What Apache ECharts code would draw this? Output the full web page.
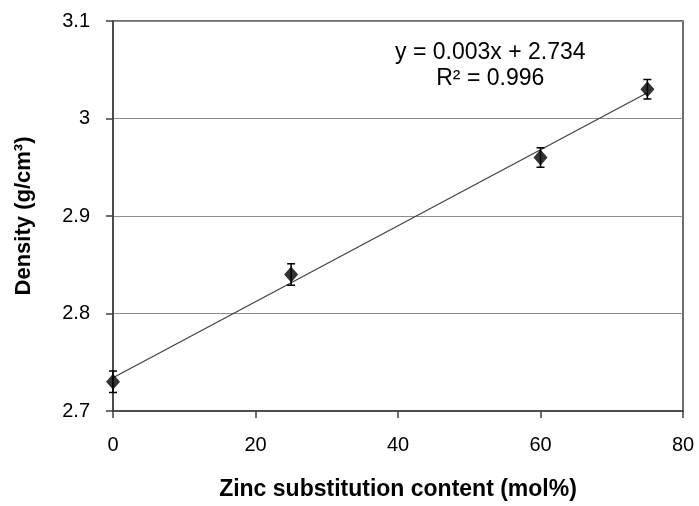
<!DOCTYPE html>
<html>
<head>
<meta charset="utf-8">
<script src="https://cdn.jsdelivr.net/npm/echarts@6/dist/echarts.min.js"></script>
<style>
  html, body { margin: 0; padding: 0; background: #fff; }
  #chart { width: 699px; height: 506px; }
</style>
</head>
<body>
<div id="chart"></div>
<script>
// data
const zincContent = [0, 25, 60, 75];
const density = [2.73, 2.84, 2.96, 3.03];
const densityErr = [0.011, 0.011, 0.01, 0.01];
const xTicks = [0, 20, 40, 60, 80];
const yTicks = [2.7, 2.8, 2.9, 3.0, 3.1];
const equationLines = ['y = 0.003x + 2.734', 'R² = 0.996'];

// linear trend line (least squares), drawn over the data range
const n = zincContent.length;
const mx = zincContent.reduce((a, b) => a + b, 0) / n;
const my = density.reduce((a, b) => a + b, 0) / n;
let sxy = 0, sxx = 0;
zincContent.forEach((x, i) => {
  sxy += (x - mx) * (density[i] - my);
  sxx += (x - mx) * (x - mx);
});
const slope = sxy / sxx;
const intercept = my - slope * mx;
const xFirst = zincContent[0];
const xLast = zincContent[n - 1];
const trendData = [
  [xFirst, intercept + slope * xFirst],
  [xLast, intercept + slope * xLast]
];

const font = 'Liberation Sans, Arial, sans-serif';
const chart = echarts.init(document.getElementById('chart'));

chart.setOption({
  animation: false,
  backgroundColor: '#fff',
  grid: {
    left: 113,
    right: 16,
    top: 21,
    bottom: 95,
    show: true,
    borderColor: '#404040',
    borderWidth: 1.5
  },
  xAxis: {
    type: 'value',
    min: xTicks[0],
    max: xTicks[xTicks.length - 1],
    interval: 20,
    name: 'Zinc substitution content (mol%)',
    nameLocation: 'middle',
    nameGap: 67,
    nameTextStyle: { fontFamily: font, fontSize: 23, fontWeight: 'bold', color: '#000' },
    axisLine: { show: true, lineStyle: { color: '#404040', width: 1.5 } },
    axisTick: { show: true, inside: false, length: 7, lineStyle: { color: '#404040', width: 1.5 } },
    axisLabel: { fontFamily: font, fontSize: 20, color: '#000', margin: 24 },
    splitLine: { show: false }
  },
  yAxis: {
    type: 'value',
    min: yTicks[0],
    max: yTicks[yTicks.length - 1],
    interval: 0.1,
    name: 'Density (g/cm³)',
    nameLocation: 'middle',
    nameGap: 78,
    nameTextStyle: { fontFamily: font, fontSize: 22, fontWeight: 'bold', color: '#000' },
    axisLine: { show: true, lineStyle: { color: '#404040', width: 1.5 } },
    axisTick: { show: true, inside: false, length: 7, lineStyle: { color: '#404040', width: 1.5 } },
    axisLabel: {
      fontFamily: font, fontSize: 20, color: '#000', margin: 23,
      formatter: v => {
        const r = Math.round(v * 10) / 10;
        return r === 3 ? '3' : r.toFixed(1);
      }
    },
    splitLine: { show: true, lineStyle: { color: '#8c8c8c', width: 1 } }
  },
  graphic: [
    {
      type: 'text',
      left: 395,
      top: 40,
      style: {
        text: equationLines.join('\n'),
        font: '23px ' + font,
        fill: '#000',
        textAlign: 'center',
        lineHeight: 26
      }
    }
  ],
  series: [
    {
      name: 'trend',
      type: 'line',
      data: trendData,
      showSymbol: false,
      symbol: 'none',
      lineStyle: { color: '#404040', width: 1.3 },
      z: 2
    },
    {
      name: 'error',
      type: 'custom',
      z: 3,
      data: zincContent.map((x, i) => [x, density[i] - densityErr[i], density[i] + densityErr[i]]),
      renderItem: (params, api) => {
        const lo = api.coord([api.value(0), api.value(1)]);
        const hi = api.coord([api.value(0), api.value(2)]);
        const cap = 4;
        const style = { stroke: '#000', lineWidth: 1.5 };
        return {
          type: 'group',
          children: [
            { type: 'line', shape: { x1: lo[0], y1: lo[1], x2: hi[0], y2: hi[1] }, style },
            { type: 'line', shape: { x1: lo[0] - cap, y1: lo[1], x2: lo[0] + cap, y2: lo[1] }, style },
            { type: 'line', shape: { x1: hi[0] - cap, y1: hi[1], x2: hi[0] + cap, y2: hi[1] }, style }
          ]
        };
      }
    },
    {
      name: 'density',
      type: 'scatter',
      data: zincContent.map((x, i) => [x, density[i]]),
      symbol: 'diamond',
      symbolSize: [14, 16],
      itemStyle: { color: '#000' },
      z: 4
    }
  ]
});
</script>
</body>
</html>
